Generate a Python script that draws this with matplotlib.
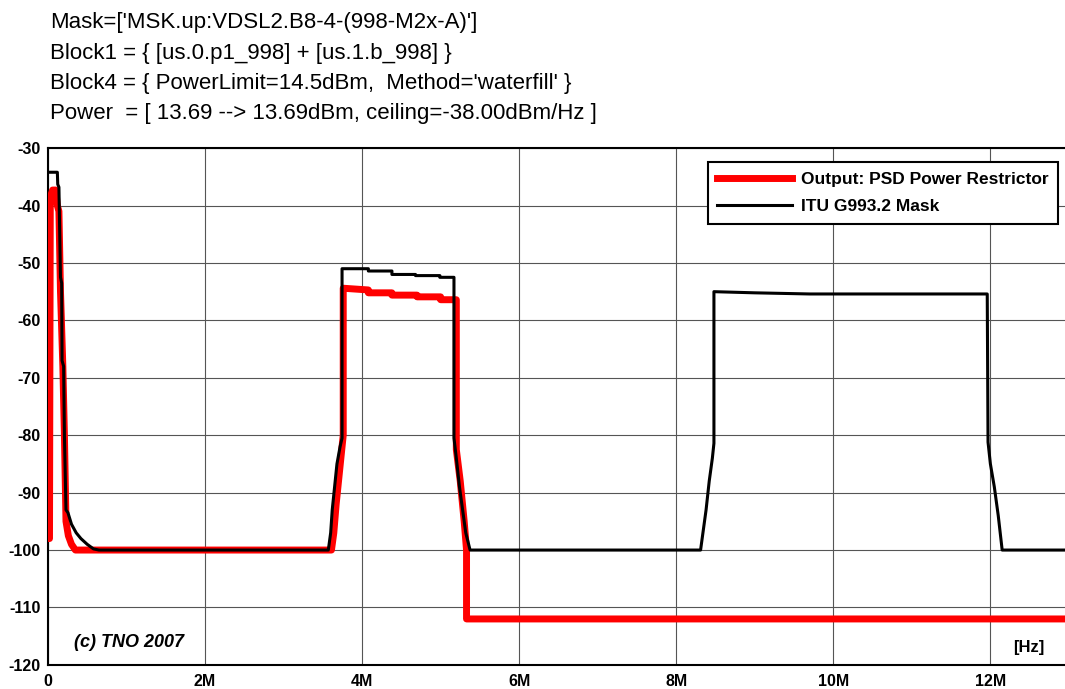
import matplotlib
matplotlib.use("Agg")
import matplotlib.pyplot as plt

plt.rcParams['font.family'] = ['Liberation Sans', 'DejaVu Sans']
plt.rcParams['axes.unicode_minus'] = False

# frequency in MHz, PSD in dBm/Hz
mask_f = [0.0, 0.12, 0.125, 0.14, 0.16, 0.175, 0.18, 0.2, 0.21, 0.23, 0.255, 0.3, 0.36,
          0.42, 0.5, 0.58, 0.65, 3.57, 3.6, 3.62, 3.65, 3.68, 3.72, 3.745, 3.745,
          4.08, 4.08, 4.38, 4.38, 4.68, 4.68, 4.99, 4.99, 5.17, 5.17, 5.2, 5.24,
          5.28, 5.32, 5.375, 8.31, 8.34, 8.38, 8.42, 8.46, 8.48, 8.48, 9.0, 9.7,
          11.96, 11.97, 12.0, 12.05, 12.1, 12.15, 13.0]
mask_db = [-34.2, -34.2, -36.3, -36.8, -52.5, -53.5, -67, -68, -80, -93, -93.5, -95.5, -97,
           -98, -99, -99.8, -100, -100, -97, -93, -89, -85, -82, -80.5, -51,
           -51, -51.4, -51.4, -52.0, -52.0, -52.2, -52.2, -52.5, -52.5, -80.5, -84, -89,
           -93, -97, -100, -100, -97, -93, -88, -84, -81.4, -55, -55.2, -55.4,
           -55.4, -81.2, -85, -89, -94, -100, -100]

out_f = [0.0, 0.02, 0.03, 0.06, 0.1, 0.12, 0.14, 0.16, 0.19, 0.21, 0.23, 0.26, 0.3,
         0.35, 3.61, 3.64, 3.67, 3.7, 3.73, 3.76, 3.76, 4.08, 4.08, 4.38, 4.38,
         4.7, 4.7, 5.0, 5.0, 5.2, 5.2, 5.25, 5.3, 5.33, 5.33, 13.0]
out_db = [-98, -98, -38.5, -37.3, -37.3, -40, -41, -55, -68, -80, -95, -97.5, -99,
          -100, -100, -97, -92, -88, -84, -80, -54.4, -54.7, -55.2, -55.2, -55.6,
          -55.6, -55.9, -55.9, -56.4, -56.4, -82.5, -88, -95, -100, -112, -112]

xticks = [0, 2, 4, 6, 8, 10, 12]
xlabels = ['0', '2M', '4M', '6M', '8M', '10M', '12M']
yticks = list(range(-120, -29, 10))

header = ["Mask=['MSK.up:VDSL2.B8-4-(998-M2x-A)']",
          "Block1 = { [us.0.p1_998] + [us.1.b_998] }",
          "Block4 = { PowerLimit=14.5dBm,  Method='waterfill' }",
          "Power  = [ 13.69 --> 13.69dBm, ceiling=-38.00dBm/Hz ]"]

fig = plt.figure(figsize=(10.65, 6.89), dpi=100)
ax = fig.add_axes([0.045, 0.035, 0.955, 0.75])

ax.plot(out_f, out_db, color='red', lw=5, label='Output: PSD Power Restrictor', zorder=3)
ax.plot(mask_f, mask_db, color='black', lw=2.2, label='ITU G993.2 Mask', zorder=4)

ax.set_xlim(0, 12.95)
ax.set_ylim(-120, -30)
ax.set_xticks(xticks)
ax.set_xticklabels(xlabels)
ax.set_yticks(yticks)
ax.tick_params(length=0, labelsize=11.5)
ax.tick_params(axis='x', pad=6.5)
ax.tick_params(axis='y', pad=5)
for lab in ax.get_xticklabels() + ax.get_yticklabels():
    lab.set_fontweight('bold')
ax.grid(True, color='#555555', lw=0.8)
for s in ['left', 'bottom', 'top']:
    ax.spines[s].set_linewidth(1.5)
ax.spines['right'].set_visible(False)

leg = ax.legend(loc='upper right', bbox_to_anchor=(0.993, 0.973), fancybox=False,
                edgecolor='black', framealpha=1, handlelength=4.3, handletextpad=0.5,
                prop={'weight': 'bold', 'size': 12.5}, borderpad=0.55, labelspacing=0.7,
                borderaxespad=0)
leg.get_frame().set_linewidth(1.5)

ax.text(0.026, 0.035, '(c) TNO 2007', transform=ax.transAxes, fontsize=13,
        fontweight='bold', fontstyle='italic')
ax.text(0.98, 0.025, '[Hz]', transform=ax.transAxes, fontsize=12,
        fontweight='bold', ha='right')

for i, line in enumerate(header):
    fig.text(0.047, 0.9589 - i * 0.0441, line, fontsize=16, va='baseline')

fig.savefig('out.png', dpi=100)
